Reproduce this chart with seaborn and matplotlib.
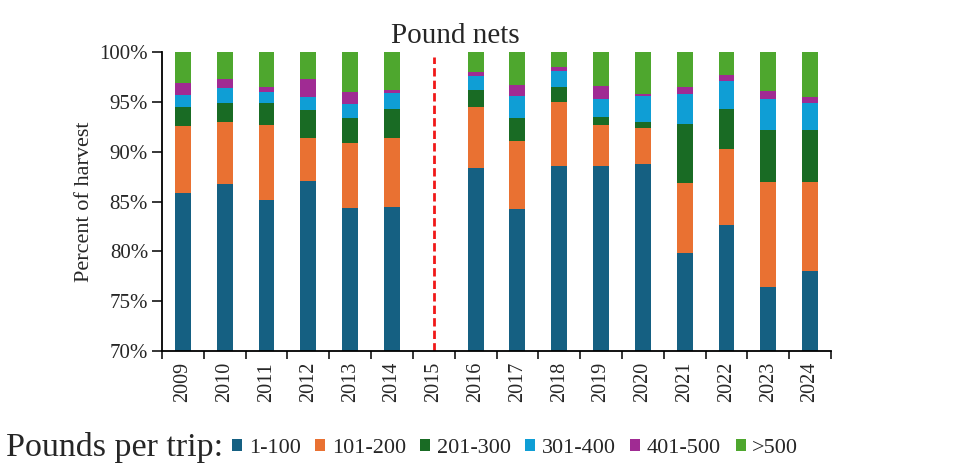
import matplotlib
matplotlib.use("Agg")
import matplotlib.pyplot as plt
import seaborn as sns
import pandas as pd
import numpy as np
from matplotlib.ticker import FixedLocator
from matplotlib.patches import Patch

years = [str(y) for y in range(2009, 2025)]
data_years = ["2009", "2010", "2011", "2012", "2013", "2014",
              "2016", "2017", "2018", "2019", "2020", "2021", "2022", "2023", "2024"]
cat_labels = ["1-100", "101-200", "201-300", "301-400", "401-500", ">500"]

s_1_100   = [85.9, 86.8, 85.2, 87.1, 84.3, 84.4, 88.4, 84.2, 88.6, 88.6, 88.8, 79.8, 82.6, 76.4, 78.0]
s_101_200 = [6.7, 6.2, 7.5, 4.3, 6.6, 7.0, 6.1, 6.9, 6.35, 4.1, 3.6, 7.1, 7.65, 10.6, 9.0]
s_201_300 = [1.9, 1.85, 2.15, 2.8, 2.45, 2.9, 1.7, 2.25, 1.55, 0.8, 0.55, 5.85, 4.0, 5.15, 5.15]
s_301_400 = [1.2, 1.5, 1.1, 1.3, 1.45, 1.6, 1.35, 2.2, 1.6, 1.8, 2.6, 3.05, 2.8, 3.15, 2.75]
s_401_500 = [1.2, 0.95, 0.55, 1.8, 1.2, 0.25, 0.45, 1.15, 0.35, 1.3, 0.2, 0.65, 0.65, 0.8, 0.55]

colors = ["#156082", "#E97132", "#196B24", "#0F9ED5", "#A02B93", "#4EA72E"]

series = [s_1_100, s_101_200, s_201_300, s_301_400, s_401_500]
partial = np.array(series)
rest = 100 - partial.sum(axis=0)
allvals = np.vstack([partial, rest])
cum = np.cumsum(allvals, axis=0)

sns.set_style("white")
SERIF = ["Liberation Serif", "DejaVu Serif"]
plt.rcParams["font.family"] = SERIF

fig = plt.figure(figsize=(9.6, 4.73), dpi=100)
ax = fig.add_axes([162/960, 1-351/473, (831-162)/960, (351-52)/473])

for i in range(len(cat_labels) - 1, -1, -1):
    df = pd.DataFrame({"year": data_years, "value": cum[i]})
    sns.barplot(data=df, x="year", y="value", order=years, color=colors[i],
                width=0.38, saturation=1, ax=ax, errorbar=None, linewidth=0)

ax.set_xlim(-0.5, 15.5)
ax.set_ylim(70, 100)
ax.set_yticks(range(70, 101, 5))
ax.set_yticklabels([f"{v}%" for v in range(70, 101, 5)], fontsize=15, family=SERIF)
ax.set_xticks(range(16))
ax.set_xticklabels(years, rotation=90, fontsize=14.5, family=SERIF)
ax.xaxis.set_minor_locator(FixedLocator(np.arange(-0.5, 16, 1)))
ax.tick_params(axis="x", which="major", length=0, pad=8)
ax.tick_params(axis="x", which="minor", length=6, width=1.3, direction="out", bottom=True)
ax.tick_params(axis="y", which="major", length=7, width=1.3, direction="out", left=True, pad=3)
ax.set_xlabel("")
ax.set_ylabel("Percent of harvest", fontsize=16, labelpad=4, family=SERIF)
for sp in ["top", "right"]:
    ax.spines[sp].set_visible(False)
for sp in ["left", "bottom"]:
    ax.spines[sp].set_color("black")
    ax.spines[sp].set_linewidth(1.3)

ax.axvline(years.index("2015"), ymin=0, ymax=0.983, color="#F01818",
           linestyle=(0, (3, 1.5)), linewidth=2)

fig.text(455/960, 1-36/473, "Pound nets", ha="center", va="center", fontsize=21, family=SERIF)

fig.text(6/960, 1-447/473, "Pounds per trip:", ha="left", va="center", fontsize=24.5, family=SERIF)
handles = [Patch(facecolor=c, edgecolor="none") for c in colors]
fig.legend(handles, cat_labels, loc="center left", bbox_to_anchor=(232/960, 1-448/473),
           ncol=6, frameon=False, prop={"family": SERIF, "size": 16},
           handlelength=0.45, handleheight=0.45,
           handletextpad=0.3, columnspacing=0.65, borderpad=0, borderaxespad=0)

fig.savefig("out.png", dpi=100)
